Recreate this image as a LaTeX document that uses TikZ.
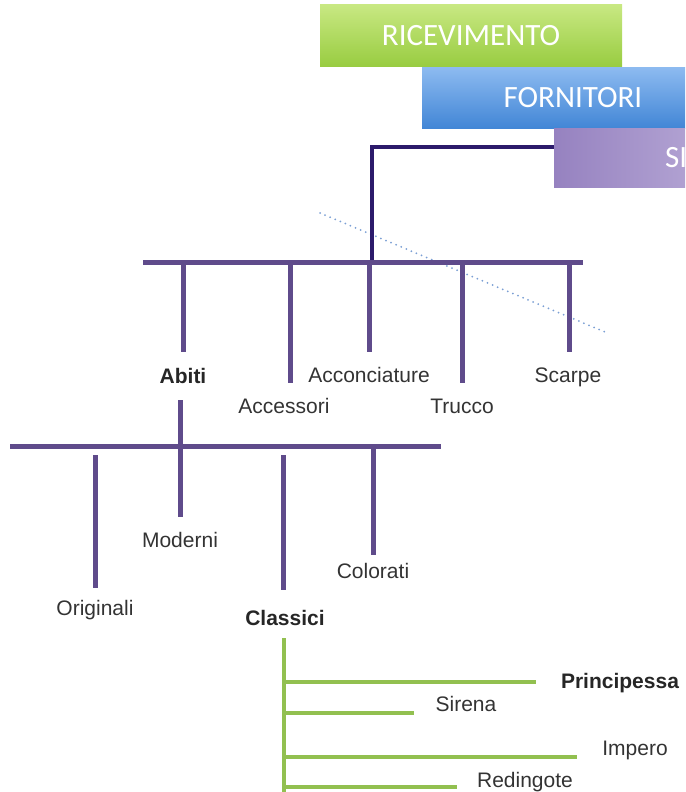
\documentclass[tikz,border=0pt]{standalone}
\usepackage{fontspec}
\setmainfont{Liberation Sans}
\newfontfamily\hdrfont{Carlito}
\usetikzlibrary{positioning}
\definecolor{barpurple}{RGB}{95,75,139}
\definecolor{linknavy}{RGB}{44,26,107}
\definecolor{leafgreen}{RGB}{146,192,80}
\definecolor{dotblue}{RGB}{123,159,212}
\definecolor{labelgray}{RGB}{51,51,51}
\definecolor{recvtop}{RGB}{200,232,130}
\definecolor{recvbot}{RGB}{152,204,64}
\definecolor{forntop}{RGB}{140,186,240}
\definecolor{fornbot}{RGB}{66,134,214}
\definecolor{sposaleft}{RGB}{150,130,192}
\definecolor{sposaright}{RGB}{210,200,232}

\begin{document}
\begin{tikzpicture}[x=1pt, y=-1pt,
        hdr/.style={minimum width=302pt, minimum height=60pt, inner sep=0pt, text=white, font=\hdrfont\fontsize{31}{35}\selectfont},
        lbl/.style={anchor=base, inner sep=0pt, text=labelgray, font=\fontsize{21}{25}\selectfont},
        boldlbl/.style={lbl, text=black!85, font=\fontsize{21}{25}\selectfont\bfseries},
        bar/.style={barpurple, line width=5pt},
        twig/.style={leafgreen, line width=4.5pt},
        link/.style={linknavy, line width=3.5pt}
    ]
    \useasboundingbox (0,0) rectangle (685,792);
    \clip (0,0) rectangle (685,792);

    % dotted guide
    \draw[dotblue, line width=2pt, line cap=round, dash pattern=on 0pt off 5.5pt] (320,213) -- (605,332);

    % header boxes
    \node[hdr, minimum height=62pt, top color=recvtop, bottom color=recvbot] (recv) at (471,36) {RICEVIMENTO};
    \node[hdr, top color=forntop, bottom color=fornbot] (forn) at (573,98) {FORNITORI};
    \node[hdr, minimum height=59pt, left color=sposaleft, right color=sposaright] (sposa) at (705,157.5) {};
    \node[anchor=west, inner sep=0pt, text=white, font=\hdrfont\fontsize{31}{35}\selectfont] (sposalbl) at (665,157.5) {SI};
    \coordinate (hub) at (372,262);
    \draw[link] ([yshift=10.5pt]sposa.west) -| (hub);

    % first level
    \draw[bar] (143,262) coordinate (bar1w) -- (583,262) coordinate (bar1e);
    \foreach \x/\y in {183/352, 290/383, 369/352, 462/383, 569/352}
        \draw[bar] (\x,262) -- (\x,\y);
    \node[boldlbl] (abiti) at (183,383) {Abiti};
    \node[lbl] (accessori) at (284,413) {Accessori};
    \node[lbl] (acconc) at (369,382) {Acconciature};
    \node[lbl] (trucco) at (462,413) {Trucco};
    \node[lbl] (scarpe) at (568,382) {Scarpe};

    % second level
    \draw[bar] (180,400) -- (180,517);
    \draw[bar] (10,446) coordinate (bar2w) -- (441,446) coordinate (bar2e);
    \foreach \x/\y/\z in {95/455/588, 283/455/590, 373/447/555}
        \draw[bar] (\x,\y) -- (\x,\z);
    \node[lbl] (originali) at (95,615) {Originali};
    \node[lbl] (moderni) at (180,547) {Moderni};
    \node[boldlbl] (classici) at (285,625) {Classici};
    \node[lbl] (colorati) at (373,578) {Colorati};

    % third level
    \draw[twig] (284,638) -- (284,795);
    \foreach \y/\x in {682/536, 713/414, 757/577, 787/457}
        \draw[twig] (284,\y) -- (\x,\y);
    \node[boldlbl] (princ) at (620,688) {Principessa};
    \node[lbl] (sirena) at (466,711) {Sirena};
    \node[lbl] (impero) at (635,755) {Impero};
    \node[lbl] (reding) at (525,787) {Redingote};
\end{tikzpicture}
\end{document}
